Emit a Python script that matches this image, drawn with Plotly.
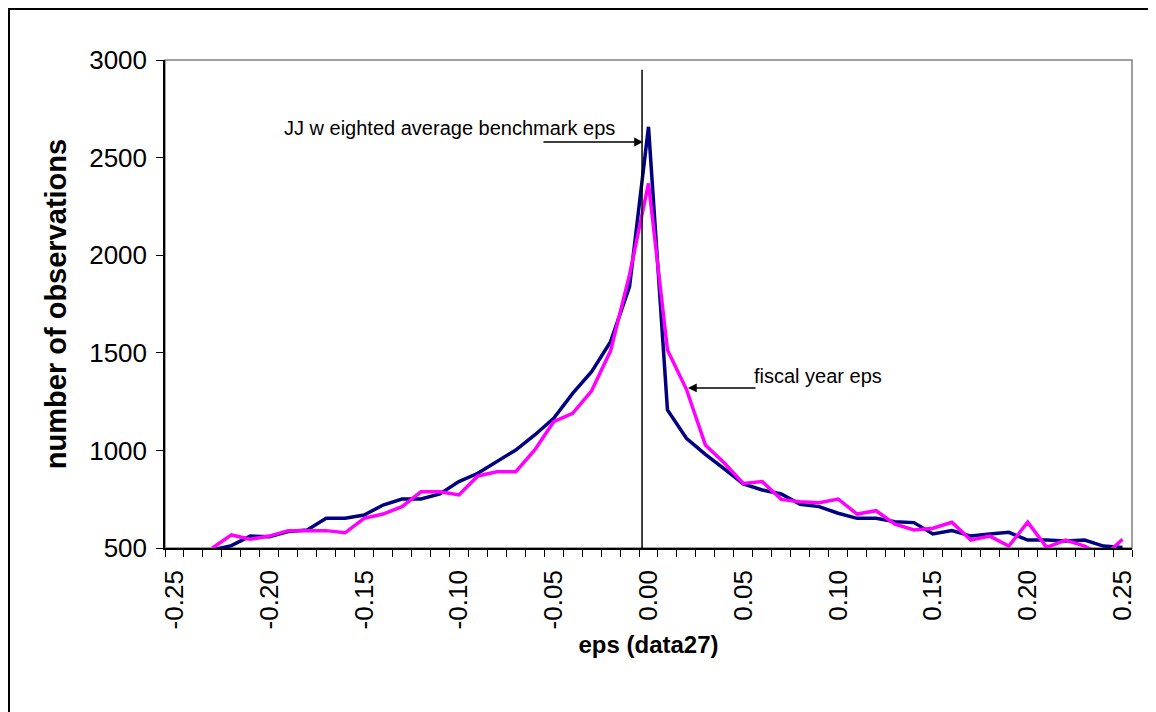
import plotly.graph_objects as go

eps_bins = [-0.25, -0.24, -0.23, -0.22, -0.21, -0.20, -0.19, -0.18, -0.17, -0.16,
            -0.15, -0.14, -0.13, -0.12, -0.11, -0.10, -0.09, -0.08, -0.07, -0.06,
            -0.05, -0.04, -0.03, -0.02, -0.01, 0.00, 0.01, 0.02, 0.03, 0.04,
            0.05, 0.06, 0.07, 0.08, 0.09, 0.10, 0.11, 0.12, 0.13, 0.14,
            0.15, 0.16, 0.17, 0.18, 0.19, 0.20, 0.21, 0.22, 0.23, 0.24, 0.25]

jj_benchmark = [None, None, 490, 512, 561, 558, 584, 592, 652, 652,
                669, 720, 751, 751, 777, 840, 883, 942, 1002, 1079,
                1164, 1292, 1403, 1557, 1839, 2658, 1207, 1062, 980, 905,
                828, 797, 777, 724, 712, 678, 652, 652, 635, 630,
                572, 589, 561, 572, 580, 541, 541, 536, 541, 510, 503]

fiscal_year = [None, None, 500, 567, 545, 561, 589, 589, 589, 578,
               652, 674, 712, 788, 788, 772, 869, 891, 891, 1002,
               1147, 1190, 1305, 1510, 1900, 2368, 1514, 1313, 1028, 935,
               831, 840, 749, 737, 732, 751, 674, 691, 622, 592,
               601, 632, 541, 561, 510, 632, 503, 541, 510, 455, 545]

tick_vals = [-0.25, -0.20, -0.15, -0.10, -0.05, 0.00, 0.05, 0.10, 0.15, 0.20, 0.25]
tick_text = ["-0.25", "-0.20", "-0.15", "-0.10", "-0.05", "0.00", "0.05", "0.10", "0.15", "0.20", "0.25"]
y_ticks = [500, 1000, 1500, 2000, 2500, 3000]

FONT = "Arial, Liberation Sans, sans-serif"

fig = go.Figure()
fig.add_trace(go.Scatter(x=eps_bins, y=jj_benchmark, mode="lines",
                         line=dict(color="#000080", width=3.5), name="JJ weighted average benchmark eps"))
fig.add_trace(go.Scatter(x=eps_bins, y=fiscal_year, mode="lines",
                         line=dict(color="#FF00FF", width=3.5), name="fiscal year eps"))

# page offset of 8px (body margin)
OFF = 8
W, H = 1156 - OFF, 712 - OFF
L, R, T, B = 165 - OFF, 1132 - OFF, 60 - OFF, 548 - OFF

def px(xp):
    return (xp - OFF - L) / (R - L)

def py(yp):
    return (B - (yp - OFF)) / (B - T)

shapes = [
    dict(type="rect", xref="paper", yref="paper", x0=px(9), x1=px(1190), y0=py(740), y1=py(9),
         line=dict(color="black", width=2), layer="below"),
    dict(type="rect", xref="paper", yref="paper", x0=0, x1=1, y0=0, y1=1,
         line=dict(color="#808080", width=1.5), layer="below"),
    dict(type="line", xref="x", yref="y", x0=-0.0034, x1=-0.0034, y0=500, y1=2950,
         line=dict(color="black", width=1.5)),
]

annotations = [
    dict(x=-0.0029, y=2580, ax=-0.0562, ay=2580, xref="x", yref="y", axref="x", ayref="y",
         text="", showarrow=True, arrowhead=2, arrowsize=1.1, arrowwidth=1.6, arrowcolor="black"),
    dict(x=-0.1933, y=2652, xref="x", yref="y", xanchor="left", yanchor="middle",
         text="JJ w eighted average benchmark eps", showarrow=False,
         font=dict(family=FONT, size=20, color="black")),
    dict(x=0.0208, y=1320, ax=0.0572, ay=1320, xref="x", yref="y", axref="x", ayref="y",
         text="", showarrow=True, arrowhead=2, arrowsize=1.1, arrowwidth=1.6, arrowcolor="black"),
    dict(x=0.0546, y=1381, xref="x", yref="y", xanchor="left", yanchor="middle",
         text="fiscal year eps", showarrow=False,
         font=dict(family=FONT, size=20, color="black")),
]

fig.update_layout(
    width=W, height=H,
    margin=dict(l=L, r=W - R, t=T, b=H - B),
    paper_bgcolor="white", plot_bgcolor="white",
    showlegend=False,
    shapes=shapes, annotations=annotations,
    font=dict(family=FONT, color="black"),
    xaxis=dict(
        range=[-0.255, 0.255], tickmode="array", tickvals=tick_vals, ticktext=tick_text,
        tickangle=-90, tickfont=dict(size=26, family=FONT, color="black"),
        ticks="", showgrid=False, zeroline=False, ticklabelstandoff=10,
        showline=True, linecolor="black", linewidth=1.5,
        minor=dict(tick0=-0.255, dtick=0.01, ticks="outside", ticklen=7,
                   tickcolor="black", tickwidth=1.2, showgrid=False),
        title=dict(text="<b>eps (data27)</b>", font=dict(size=24, family=FONT, color="black"), standoff=8),
    ),
    yaxis=dict(
        range=[500, 3000], tickmode="array", tickvals=y_ticks,
        tickfont=dict(size=26, family=FONT, color="black"),
        ticks="outside", ticklen=7, tickcolor="black", tickwidth=1.2, ticklabelstandoff=4,
        showgrid=False, zeroline=False,
        showline=True, linecolor="black", linewidth=1.5,
        title=dict(text="<b>number of observations</b>", font=dict(size=29, family=FONT, color="black"), standoff=14),
    ),
)

fig.write_html("out.html")
